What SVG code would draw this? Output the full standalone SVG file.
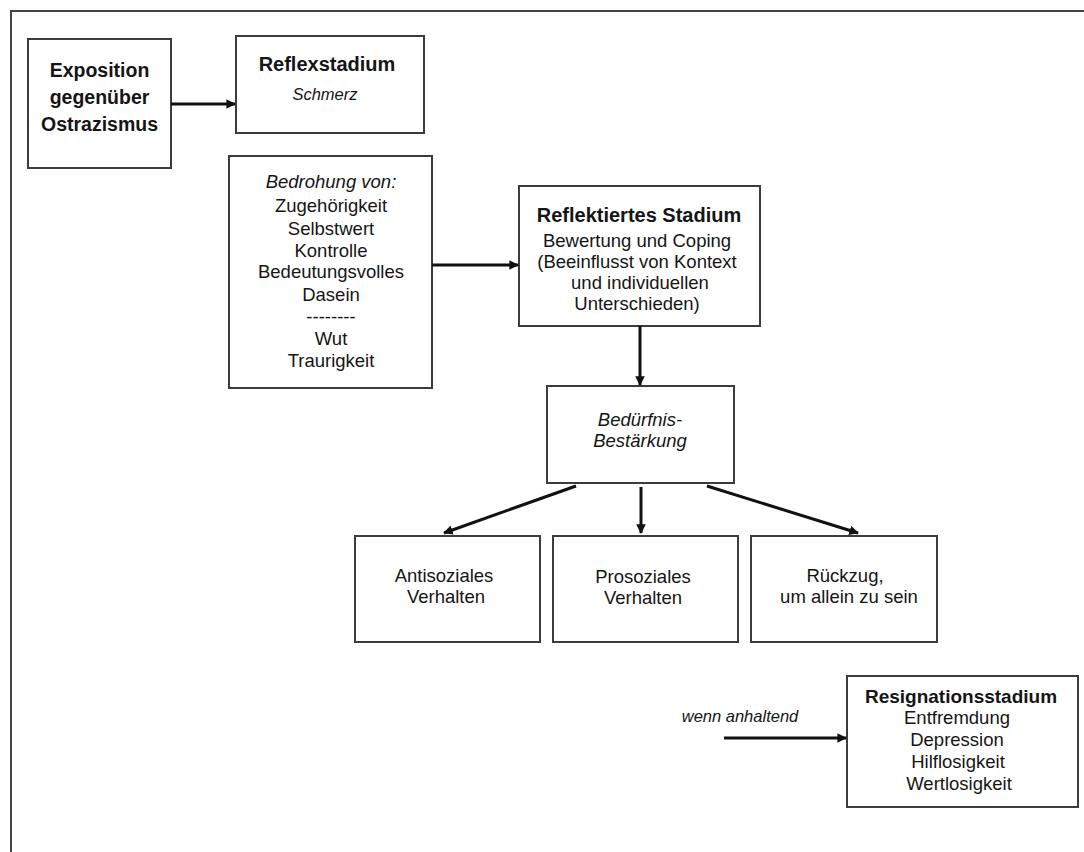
<svg xmlns="http://www.w3.org/2000/svg" width="1084" height="852" viewBox="0 0 1084 852">
<defs>
<style>
.box{fill:#fff;stroke:#3c3c3c;stroke-width:2}
.t{font-family:"Liberation Sans",Arial,sans-serif;fill:#151515;text-anchor:middle;font-size:18.5px}
.b{font-weight:bold}
.i{font-style:italic}
.edge{stroke:#111;stroke-width:3;fill:none;marker-end:url(#ah)}
.frame{fill:none;stroke:#444;stroke-width:2}
</style>
<marker id="ah" viewBox="0 0 10 10" refX="9" refY="5" markerWidth="3.2" markerHeight="3.2" orient="auto" markerUnits="strokeWidth">
<path d="M0,0 L10,5 L0,10 Z" fill="#111"/>
</marker>
</defs>
<rect width="1084" height="852" fill="#fff"/>
<path class="frame" d="M11,852 V11 H1084"/>

<g id="exposition">
<rect class="box" x="28" y="39" width="143" height="129"/>
<text class="t b" x="99.5" y="77" style="font-size:19.5px">Exposition</text>
<text class="t b" x="99.5" y="104" style="font-size:19.5px">gegenüber</text>
<text class="t b" x="99.5" y="131" style="font-size:19.5px">Ostrazismus</text>
</g>

<g id="reflexstadium">
<rect class="box" x="236" y="36" width="188" height="97"/>
<text class="t b" x="327" y="71" style="font-size:20px">Reflexstadium</text>
<text class="t i" x="325" y="100" style="font-size:16.5px">Schmerz</text>
</g>

<g id="bedrohung">
<rect class="box" x="229" y="156" width="203" height="232"/>
<text class="t i" x="331" y="188">Bedrohung von:</text>
<text class="t" x="331" y="212">Zugehörigkeit</text>
<text class="t" x="331" y="235">Selbstwert</text>
<text class="t" x="331" y="257">Kontrolle</text>
<text class="t" x="331" y="278">Bedeutungsvolles</text>
<text class="t" x="331" y="301">Dasein</text>
<text class="t" x="331" y="323">--------</text>
<text class="t" x="331" y="345">Wut</text>
<text class="t" x="331" y="367">Traurigkeit</text>
</g>

<g id="reflektiert">
<rect class="box" x="519" y="186" width="241" height="140"/>
<text class="t b" x="639" y="222" style="font-size:20px">Reflektiertes Stadium</text>
<text class="t" x="637" y="247">Bewertung und Coping</text>
<text class="t" x="637" y="268">(Beeinflusst von Kontext</text>
<text class="t" x="640" y="289">und individuellen</text>
<text class="t" x="637" y="310">Unterschieden)</text>
</g>

<g id="beduerfnis">
<rect class="box" x="547" y="386" width="187" height="97"/>
<text class="t i" x="640" y="426">Bedürfnis-</text>
<text class="t i" x="640" y="447">Bestärkung</text>
</g>

<g id="antisozial">
<rect class="box" x="355" y="536" width="185" height="106"/>
<text class="t" x="444" y="582">Antisoziales</text>
<text class="t" x="446" y="603">Verhalten</text>
</g>

<g id="prosozial">
<rect class="box" x="553" y="536" width="185" height="106"/>
<text class="t" x="643" y="583">Prosoziales</text>
<text class="t" x="643" y="604">Verhalten</text>
</g>

<g id="rueckzug">
<rect class="box" x="751" y="536" width="186" height="106"/>
<text class="t" x="845" y="582">Rückzug,</text>
<text class="t" x="849" y="603">um allein zu sein</text>
</g>

<g id="resignation">
<rect class="box" x="847" y="676" width="231" height="131"/>
<text class="t b" x="961" y="703" style="font-size:19px">Resignationsstadium</text>
<text class="t" x="957" y="724">Entfremdung</text>
<text class="t" x="957" y="746">Depression</text>
<text class="t" x="958" y="768">Hilflosigkeit</text>
<text class="t" x="959" y="790">Wertlosigkeit</text>
</g>

<g id="connectors">
<line class="edge" x1="171" y1="104" x2="235" y2="104"/>
<line class="edge" x1="432" y1="265" x2="518" y2="265"/>
<line class="edge" x1="640" y1="326" x2="640" y2="385"/>
<line class="edge" x1="576" y1="486" x2="444" y2="533"/>
<line class="edge" x1="641" y1="487" x2="641" y2="533"/>
<line class="edge" x1="707" y1="486" x2="858" y2="533"/>
<line class="edge" x1="724" y1="738" x2="846" y2="738"/>
<text class="t i" x="740" y="722" style="font-size:16.5px">wenn anhaltend</text>
</g>
</svg>
